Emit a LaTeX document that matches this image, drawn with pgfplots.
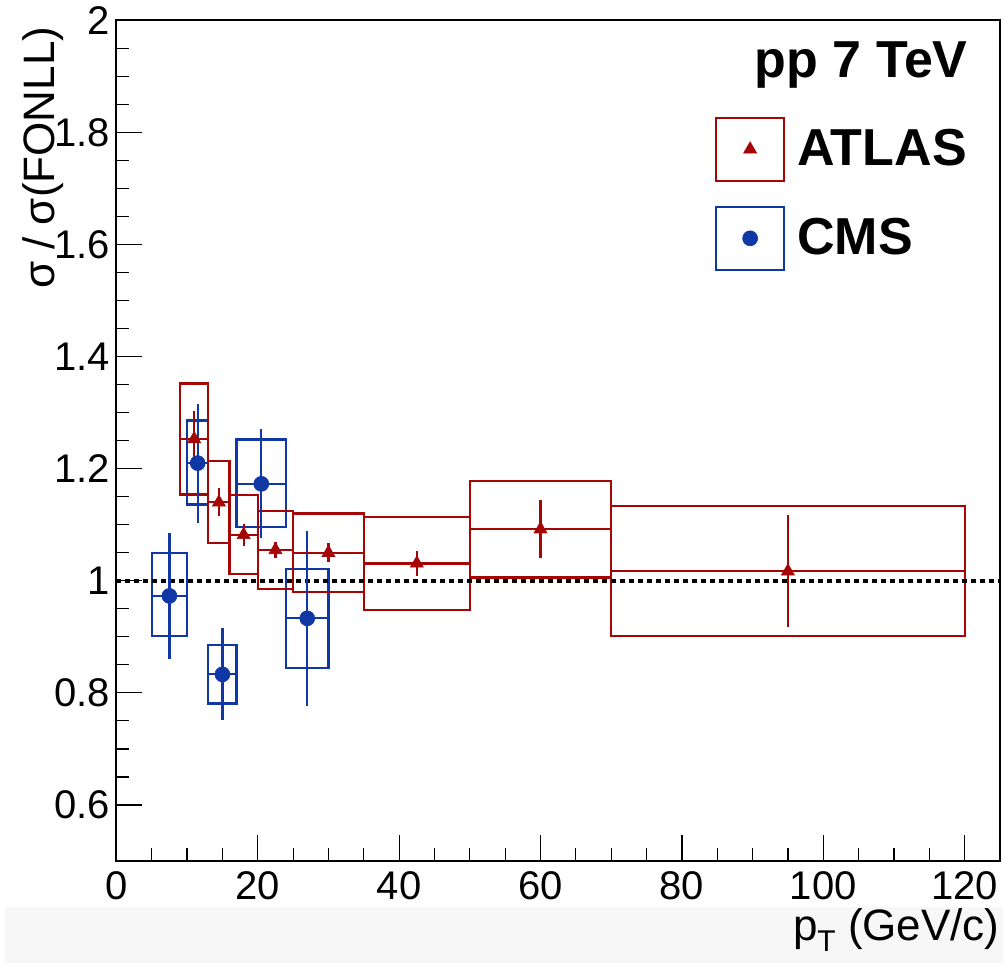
\documentclass[border=0pt]{standalone}
\usepackage{pgfplots}
\pgfplotsset{compat=1.18}
\usepackage{fontspec}
\setmainfont{Liberation Sans}
\definecolor{atlasred}{RGB}{165,5,5}
\definecolor{cmsblue}{RGB}{15,55,165}

\begin{document}
\begin{tikzpicture}
\useasboundingbox (-58.2pt,-51pt) rectangle (443.3pt,430.5pt);
% faint grey band at the bottom of the screenshot
\fill[black!3] (-55.7pt,-23pt) rectangle (443.3pt,-51pt);
\begin{axis}[
    at={(0,0)}, anchor=south west,
    scale only axis,
    width=441.8pt, height=420.3pt,
    xmin=0, xmax=125, ymin=0.5, ymax=2,
    xtick={0,20,40,60,80,100,120},
    ytick={0.6,0.8,1,1.2,1.4,1.6,1.8,2},
    minor x tick num=3, minor y tick num=3,
    tick align=inside, xtick pos=bottom, ytick pos=left,
    major tick length=13pt, minor tick length=6.5pt,
    every tick/.style={black, line width=0.6pt},
    axis line style={line width=1pt},
    tick label style={font=\fontsize{20}{24}\selectfont},
    /pgf/number format/assume math mode=true,
    xticklabel style={anchor=base, yshift=-19.5pt},
    yticklabel style={anchor=east, inner sep=0pt, xshift=-3pt},
    xlabel={p\raisebox{-5.5pt}{\fontsize{15}{15}\selectfont T} (GeV/c)},
    xlabel style={at={(rel axis cs:1,0)}, anchor=base east, yshift=-40pt,
        inner sep=0pt, font=\fontsize{22}{26}\selectfont},
    ylabel={σ / σ(FONLL)},
    ylabel style={at={([xshift=-30.7pt,yshift=-3pt]rel axis cs:0,1)},
        anchor=base east, inner sep=0pt, font=\fontsize{22}{26}\selectfont},
    unbounded coords=jump,
    legend style={at={(rel axis cs:0.6775,0.8854)}, anchor=north west,
        draw=none, fill=none, inner sep=0pt, outer sep=0pt,
        row sep=11.9pt, column sep=6pt,
        font=\bfseries\fontsize{26}{30}\selectfont,
        nodes={inner sep=0pt}},
    legend cell align=left,
]

% CMS systematic boxes
\addplot[cmsblue, line width=1.1pt, line cap=rect, mark=none, forget plot] coordinates {
    (5,0.901) (10,0.901) (10,1.050) (5,1.050) (5,0.901)
    (nan,nan)
    (10,1.136) (13,1.136) (13,1.286) (10,1.286) (10,1.136)
    (nan,nan)
    (13,0.781) (17,0.781) (17,0.886) (13,0.886) (13,0.781)
    (nan,nan)
    (17,1.096) (24,1.096) (24,1.252) (17,1.252) (17,1.096)
    (nan,nan)
    (24,0.845) (30,0.845) (30,1.021) (24,1.021) (24,0.845)
};

% ATLAS systematic boxes
\addplot[atlasred, line width=1.1pt, line cap=rect, mark=none, forget plot] coordinates {
    (9,1.154) (13,1.154) (13,1.352) (9,1.352) (9,1.154)
    (nan,nan)
    (13,1.068) (16,1.068) (16,1.214) (13,1.214) (13,1.068)
    (nan,nan)
    (16,1.012) (20,1.012) (20,1.153) (16,1.153) (16,1.012)
    (nan,nan)
    (20,0.986) (25,0.986) (25,1.125) (20,1.125) (20,0.986)
    (nan,nan)
    (25,0.980) (35,0.980) (35,1.120) (25,1.120) (25,0.980)
    (nan,nan)
    (35,0.948) (50,0.948) (50,1.114) (35,1.114) (35,0.948)
    (nan,nan)
    (50,1.006) (70,1.006) (70,1.178) (50,1.178) (50,1.006)
    (nan,nan)
    (70,0.901) (120,0.901) (120,1.133) (70,1.133) (70,0.901)
};

% reference line at 1
\addplot[black, line width=1.8pt, dash pattern=on 2.3pt off 2.2pt, mark=none, forget plot]
    coordinates {(0,1) (125,1)};

% CMS points
\addplot[cmsblue, only marks, mark=*, mark size=3.75pt, mark options={line width=0.3pt},
    forget plot,
    error bars/.cd, x dir=both, x explicit, y dir=both, y explicit,
    error mark=none, error bar style={line width=1.1pt, cmsblue}]
    table[x=x, y=y, x error=ex, y error=ey] {
x    y     ex  ey
7.5  0.973 2.5 0.112
11.5 1.210 1.5 0.106
15   0.833 2   0.082
20.5 1.173 3.5 0.097
27   0.933 3   0.156
};

% ATLAS points
\addplot[atlasred, only marks, mark=triangle*, mark size=3.75pt, mark options={line width=0.3pt},
    forget plot,
    error bars/.cd, x dir=both, x explicit, y dir=both, y explicit,
    error mark=none, error bar style={line width=1.1pt, atlasred}]
    table[x=x, y=y, x error=ex, y error=ey] {
x    y     ex  ey
11   1.253 2   0.050
14.5 1.140 1.5 0.025
18   1.082 2   0.020
22.5 1.055 2.5 0.014
30   1.050 5   0.017
42.5 1.031 7.5 0.022
60   1.092 10  0.052
95   1.017 25  0.100
};

\addlegendimage{legend image code/.code={
    \draw[atlasred, line width=1.1pt] (0pt,-15.75pt) rectangle (34pt,15.75pt);
    \draw[atlasred, mark=triangle*, mark size=3.75pt,
        mark options={fill=atlasred, draw=atlasred, line width=0.3pt}]
        plot coordinates {(17pt,0pt)};
}}
\addlegendentry{ATLAS}
\addlegendimage{legend image code/.code={
    \draw[cmsblue, line width=1.1pt] (0pt,-15.75pt) rectangle (34pt,15.75pt);
    \draw[cmsblue, mark=*, mark size=3.75pt,
        mark options={fill=cmsblue, draw=cmsblue, line width=0.3pt}]
        plot coordinates {(17pt,0pt)};
}}
\addlegendentry{CMS}

\node[anchor=base east, inner sep=0pt, font=\bfseries\fontsize{26}{30}\selectfont]
    at (rel axis cs:0.9638,0.9318) {pp 7 TeV};

\end{axis}
\end{tikzpicture}
\end{document}
